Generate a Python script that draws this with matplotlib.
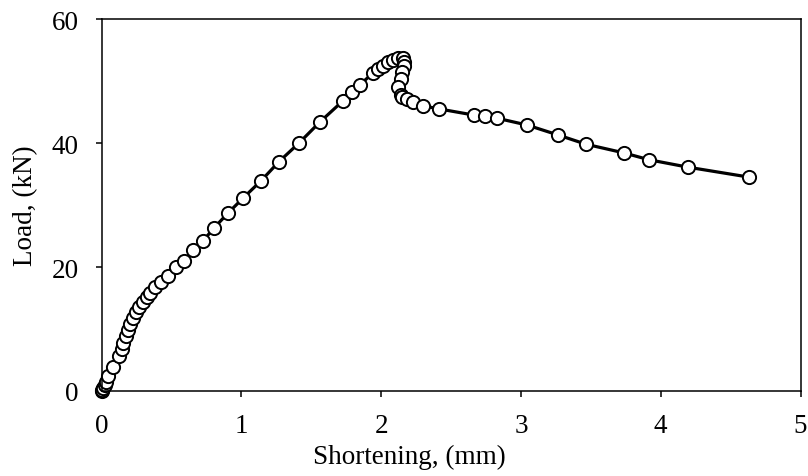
import matplotlib
matplotlib.use("Agg")
import matplotlib.pyplot as plt

# Load-shortening curve
shortening = [
    0.0, 0.005, 0.013, 0.022, 0.032, 0.046, 0.082, 0.125, 0.147, 0.154,
    0.175, 0.19, 0.204, 0.225, 0.247, 0.268, 0.297, 0.325, 0.347, 0.383,
    0.426, 0.476, 0.533, 0.59, 0.655, 0.726, 0.805, 0.905, 1.012, 1.141,
    1.27, 1.413, 1.563, 1.727, 1.792, 1.849, 1.942, 1.978, 2.014, 2.05,
    2.085, 2.121, 2.157, 2.164, 2.164, 2.15, 2.14, 2.121, 2.143, 2.15,
    2.185, 2.228, 2.3, 2.414, 2.665, 2.743, 2.829, 3.044, 3.265, 3.466,
    3.738, 3.916, 4.195, 4.631,
]
load = [
    0.0, 0.2, 0.5, 1.0, 1.45, 2.4, 3.9, 5.6, 6.8, 7.7,
    8.9, 9.8, 10.8, 11.8, 12.7, 13.5, 14.4, 15.2, 15.8, 16.8,
    17.6, 18.5, 20.0, 21.0, 22.7, 24.2, 26.3, 28.7, 31.1, 33.9,
    37.0, 40.0, 43.4, 46.8, 48.2, 49.4, 51.3, 51.9, 52.4, 53.1,
    53.4, 53.7, 53.7, 53.1, 52.4, 51.5, 50.3, 49.0, 47.7, 47.4,
    47.1, 46.6, 46.0, 45.5, 44.5, 44.4, 44.0, 42.9, 41.3, 39.8,
    38.4, 37.3, 36.1, 34.5,
]

plt.rcParams["font.family"] = ["Liberation Serif", "DejaVu Serif"]

fig = plt.figure(figsize=(8.08, 4.77), dpi=100)
ax = fig.add_axes([101.5 / 808, 1 - 392 / 477, 699 / 808, 372 / 477])

ax.plot(shortening, load, color="black", linewidth=2.3, marker="o",
        markersize=9.5, markerfacecolor="white", markeredgecolor="black",
        markeredgewidth=1.4, clip_on=False)

ax.set_xlim(0, 5)
ax.set_ylim(0, 60)
ax.set_xticks([0, 1, 2, 3, 4, 5])
ax.set_yticks([0, 20, 40, 60])
ax.tick_params(direction="out", length=4.5, width=1.1, labelsize=19.5)
ax.tick_params(axis="x", pad=11)
ax.tick_params(axis="y", pad=12)
for s in ax.spines.values():
    s.set_linewidth(1.1)

ax.set_xlabel("Shortening, (mm)", fontsize=19.5)
ax.set_ylabel("Load, (kN)", fontsize=19.5)
# the axis titles sit a bit off the plot centre in the reference
ax.xaxis.set_label_coords(0.441, -0.142)
ax.yaxis.set_label_coords(-0.09, 0.5)

fig.savefig("out.png", dpi=100)
